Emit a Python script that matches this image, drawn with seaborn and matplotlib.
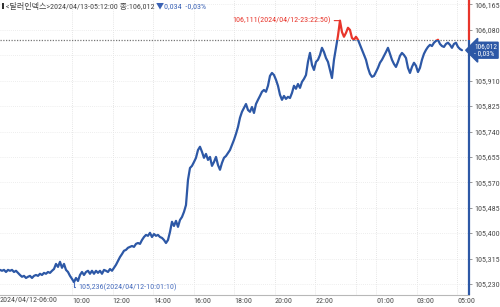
import numpy as np
import pandas as pd
import matplotlib
matplotlib.use("Agg")
import matplotlib.pyplot as plt
import matplotlib.font_manager as fm
from matplotlib.patches import Rectangle
import seaborn as sns

# ---------------- data ----------------
start_time = "2024-04-12 06:27:00"
step = "355s"
prices = [
    105.277, 105.274, 105.277, 105.270, 105.277, 105.274, 105.277, 105.270, 105.274, 105.267,
    105.260, 105.254, 105.257, 105.250, 105.254, 105.257, 105.250, 105.257, 105.260, 105.257,
    105.264, 105.260, 105.267, 105.264, 105.270, 105.267, 105.274, 105.280, 105.297, 105.287,
    105.304, 105.284, 105.297, 105.277, 105.270, 105.257, 105.247, 105.236, 105.250, 105.240,
    105.260, 105.270, 105.260, 105.270, 105.274, 105.264, 105.274, 105.264, 105.274, 105.267,
    105.274, 105.264, 105.277, 105.274, 105.270, 105.280, 105.274, 105.284, 105.294, 105.307,
    105.320, 105.330, 105.341, 105.344, 105.351, 105.354, 105.357, 105.354, 105.364, 105.367,
    105.364, 105.377, 105.387, 105.394, 105.391, 105.401, 105.387, 105.397, 105.391, 105.394,
    105.387, 105.384, 105.377, 105.367, 105.377, 105.404, 105.438, 105.424, 105.441, 105.421,
    105.444, 105.454, 105.471, 105.494, 105.578, 105.618, 105.625, 105.638, 105.652, 105.678,
    105.689, 105.672, 105.652, 105.665, 105.645, 105.655, 105.625, 105.638, 105.655, 105.628,
    105.612, 105.635, 105.652, 105.658, 105.668, 105.678, 105.695, 105.712, 105.732, 105.755,
    105.786, 105.806, 105.819, 105.832, 105.812, 105.806, 105.822, 105.802, 105.832, 105.846,
    105.859, 105.873, 105.879, 105.873, 105.893, 105.926, 105.936, 105.929, 105.913, 105.893,
    105.863, 105.846, 105.859, 105.849, 105.856, 105.852, 105.869, 105.893, 105.883, 105.899,
    105.886, 105.906, 105.916, 105.929, 105.973, 106.003, 105.963, 105.946, 105.973, 105.980,
    105.996, 106.020, 106.006, 105.986, 105.973, 105.946, 105.919, 105.980, 106.020, 106.060,
    106.111, 106.073, 106.057, 106.070, 106.087, 106.080, 106.053, 106.047, 106.057, 106.047,
    106.030, 106.013, 105.996, 105.980, 105.953, 105.933, 105.923, 105.926, 105.939, 105.953,
    105.970, 105.980, 105.993, 106.006, 106.020, 106.000, 105.980, 105.966, 105.956, 105.973,
    105.993, 106.003, 105.996, 105.986, 105.953, 105.936, 105.956, 105.970, 105.960, 105.939,
    105.953, 105.980, 106.000, 106.013, 106.023, 106.030, 106.026, 106.037, 106.043, 106.047,
    106.033, 106.026, 106.023, 106.033, 106.037, 106.030, 106.020, 106.033, 106.037, 106.023,
    106.016, 106.012,
]
prev_close = 106.046
last_price = 106.012
y_ticks = [105.230, 105.315, 105.400, 105.485, 105.570, 105.655, 105.740,
           105.825, 105.910, 105.995, 106.080, 106.165]
x_tick_hours = [4, 6, 8, 10, 12, 14, 16, 19, 21, 23]
x_tick_labels = ["10:00", "12:00", "14:00", "16:00", "18:00", "20:00",
                 "22:00", "01:00", "03:00", "05:00"]
first_label = "2024/04/12-06:00"
header_main = "<달러인덱스>2024/04/13-05:12:00 종:106,012 "
header_chg = "▼0,034  -0,03%"
max_label = "106,111(2024/04/12-23:22:50)"
min_label = "105,236(2024/04/12-10:01:10)"
box_label = "106,012\n- 0,03%"

# ---------------- styling ----------------
sns.set_style("white")
names = {f.name for f in fm.fontManager.ttflist}
base = next((n for n in ["Roboto Condensed", "Archivo Narrow", "Asap Condensed",
                         "Barlow Condensed", "Liberation Sans Narrow", "Liberation Sans"]
             if n in names), "DejaVu Sans")
FAM = [base, "Noto Sans CJK KR", "DejaVu Sans"]
plt.rcParams["font.family"] = FAM
FS = 5.8

BLUE = "#2d58a6"
RED = "#e8352b"
TXT = "#4a4a4a"

times = pd.date_range(start_time, periods=len(prices), freq=step)
hours = (times - pd.Timestamp("2024-04-12 06:00:00")) / pd.Timedelta(hours=1)
df = pd.DataFrame({"h": np.asarray(hours), "price": prices})

fig = plt.figure(figsize=(5.0, 3.07), dpi=100)
ax = fig.add_axes([0.0, 12 / 307, 469 / 500, 295 / 307])

x0, x1 = hours[0], hours[0] + 469 / 20.28
y0, y1 = 105.193, 106.180
ax.set_xlim(x0, x1)
ax.set_ylim(y0, y1)

# grid
for t in x_tick_hours + [18]:
    ax.axvline(t, color="#dedede", lw=0.6, ls=(0, (1, 1.5)), zorder=0)
for t in y_ticks:
    ax.axhline(t, color="#e8e8e8", lw=0.6, ls=(0, (1, 1.5)), zorder=0)

sns.lineplot(data=df, x="h", y="price", ax=ax, color=BLUE, lw=1.6, zorder=3)
sns.lineplot(data=df, x="h", y="price", ax=ax, color=RED, lw=1.6, zorder=3)
blue_line, red_line = ax.lines[-2], ax.lines[-1]
blue_line.set_clip_path(Rectangle((x0, y0), x1 - x0, prev_close - y0, transform=ax.transData))
red_line.set_clip_path(Rectangle((x0, prev_close), x1 - x0, y1 - prev_close, transform=ax.transData))

# previous close dotted line
ax.axhline(prev_close, color="#777777", lw=0.9, ls=(0, (1, 1.2)), zorder=2)

# spines
for s in ["top", "left", "right"]:
    ax.spines[s].set_visible(False)
ax.spines["bottom"].set_color("#b8b8b8")
ax.spines["bottom"].set_linewidth(0.8)
ax.vlines(x1, prev_close, y1, color=RED, lw=1.6, clip_on=False, zorder=5)
ax.vlines(x1, y0, prev_close, color=BLUE, lw=1.6, clip_on=False, zorder=5)

# ticks
ax.yaxis.tick_right()
ax.set_yticks(y_ticks)
ax.set_yticklabels([("" if abs(v - 105.995) < 1e-6 else f"{v:.3f}".replace(".", ",")) for v in y_ticks])
ax.tick_params(axis="y", length=2.5, width=0.6, color="#888888", pad=1,
               labelsize=FS, labelcolor=TXT)
ax.set_xticks(x_tick_hours)
ax.set_xticklabels(x_tick_labels)
ax.tick_params(axis="x", length=2.5, width=0.6, color="#888888", pad=0,
               labelsize=FS, labelcolor=TXT)
for lab in ax.get_xticklabels():
    lab.set_horizontalalignment("left")
ax.set_xlabel("")
ax.set_ylabel("")
ax.text(0.0, -0.004, first_label, transform=ax.transAxes, ha="left", va="top",
        fontsize=FS, color=TXT)

# max / min annotations
imax = int(np.argmax(prices))
imin = int(np.argmin(prices))
ax.annotate(max_label, xy=(df.h[imax], prices[imax]), xytext=(-9, 0),
            textcoords="offset pixels", ha="right", va="center", fontsize=FS,
            color=RED, arrowprops=dict(arrowstyle="-", color=RED, lw=0.8,
                                       shrinkA=0, shrinkB=0), zorder=6)
ax.annotate(min_label, xy=(df.h[imin], prices[imin]), xytext=(4, -5),
            textcoords="offset pixels", ha="left", va="center", fontsize=FS,
            color="#4a6fbf",
            arrowprops=dict(arrowstyle="-", color="#4a6fbf", lw=0.8,
                            shrinkA=0, shrinkB=0,
                            connectionstyle="angle,angleA=0,angleB=90,rad=0"),
            zorder=6)

# current price box
ax.annotate(box_label, xy=(1.0, last_price), xycoords=("axes fraction", "data"),
            xytext=(5, 0), textcoords="offset pixels", ha="left", va="center",
            fontsize=5.3, color="white", linespacing=0.95,
            bbox=dict(boxstyle="larrow,pad=0.15", fc=BLUE, ec=BLUE), zorder=10,
            annotation_clip=False)

# header
fig.patches.append(Rectangle((2 / 500, 1 - 9 / 307), 2 / 500, 6 / 307,
                             transform=fig.transFigure, fc="#333333", ec="none"))
t1 = fig.text(6 / 500, 1 - 6 / 307, header_main, ha="left", va="center",
              fontsize=FS, color="#444444")
fig.canvas.draw()
bb = t1.get_window_extent()
fig.text(bb.x1 / fig.bbox.width, 1 - 6 / 307, header_chg, ha="left", va="center",
         fontsize=FS, color="#3a62b5")

fig.savefig("out.png", dpi=100)
